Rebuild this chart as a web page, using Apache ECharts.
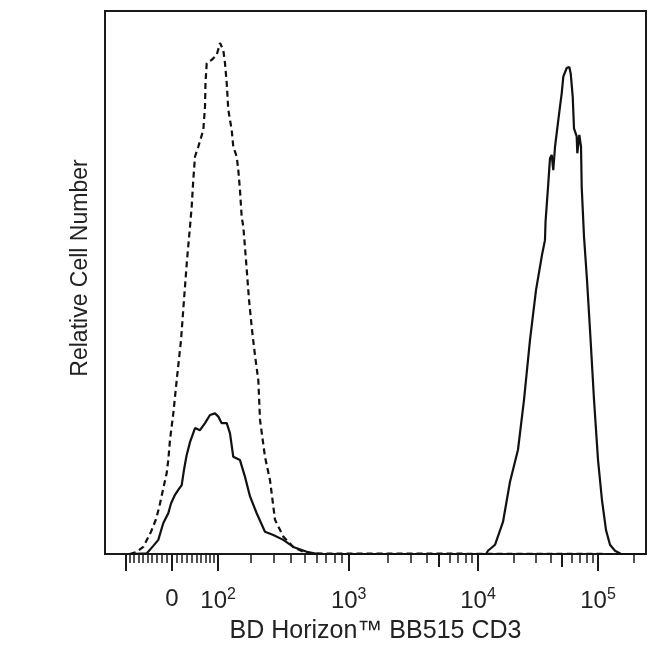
<!DOCTYPE html>
<html><head><meta charset="utf-8">
<script src="https://cdn.jsdelivr.net/npm/echarts@6/dist/echarts.min.js"></script>
<style>html,body{margin:0;padding:0;background:#fff}#c{width:650px;height:646px}</style>
</head><body><div id="c"></div>
<script>
// Histogram data on a 0–1024 display-channel scale, counts relative (0–100)
const dashedChannel = [47, 50.5, 60.0, 72.5, 87.1, 96.5, 102.8, 111.7, 116.8, 119.8, 123.0, 129.3, 135.7, 143.9, 149.5, 155.2, 160.9, 164.1, 167.1, 170.4, 176.6, 186.1, 189.3, 190.2, 192.5, 202.0, 211.4, 217.7, 223.9, 227.1, 230.4, 233.4, 239.8, 242.8, 249.3, 252.3, 255.5, 258.7, 261.8, 266.9, 272.6, 278.2, 283.9, 290.2, 293.4, 302.8, 312.3, 321.8, 337.5, 356.4, 375.3, 388.0, 975];
const dashedCount = [0, 0.1, 0.4, 1.3, 4.1, 6.4, 8.7, 12.7, 14.9, 17.3, 21.0, 25.9, 32.0, 39.4, 46.8, 54.1, 60.3, 64.0, 68.9, 73.2, 75.0, 78.1, 82.4, 86.7, 90.4, 91.0, 91.9, 94.1, 92.8, 90.4, 86.7, 81.8, 78.1, 75.0, 73.2, 70.7, 67.0, 62.1, 60.3, 54.1, 46.8, 41.3, 36.6, 32.0, 24.7, 17.9, 13.6, 6.3, 3.2, 1.3, 0.4, 0.1, 0];

const solidChannel = [47, 78.9, 91.4, 100.9, 110.4, 119.8, 124.9, 132.5, 138.7, 145.2, 149.5, 154.3, 160.9, 170.4, 179.8, 189.3, 198.7, 208.2, 214.5, 220.9, 230.4, 236.6, 242.8, 255.5, 265.0, 274.5, 287.1, 302.8, 318.6, 337.5, 356.4, 381.8, 403.2, 721.2, 724.9, 738.2, 753.3, 766.6, 781.7, 793.1, 804.4, 815.8, 827.2, 832.8, 833.8, 839.1, 842.3, 845.5, 848.5, 851.8, 858.0, 861.2, 864.4, 867.5, 873.9, 878.8, 881.5, 885.3, 887.7, 892.8, 894.0, 897.8, 901.0, 902.3, 906.7, 912.3, 918.0, 925.6, 933.2, 940.7, 948.3, 955.9, 965.3, 976.7, 1024];
const solidCount = [0, 0.1, 1.5, 2.6, 5.7, 7.5, 9.3, 10.9, 11.8, 12.7, 15.5, 18.1, 20.6, 23.2, 22.8, 24.1, 25.6, 25.9, 25.3, 24.1, 24.1, 22.2, 17.9, 17.3, 14.2, 10.6, 7.5, 4.1, 3.5, 2.6, 1.3, 0.4, 0, 0, 0.6, 1.7, 5.9, 13.3, 19.2, 28.4, 39.4, 48.6, 55.1, 57.8, 61.1, 68.3, 72.9, 73.5, 70.7, 75.0, 79.9, 82.4, 84.8, 87.9, 89.5, 89.7, 88.5, 84.2, 78.4, 76.9, 73.8, 77.2, 75.0, 67.6, 58.4, 50.5, 41.3, 28.4, 17.3, 9.9, 4.4, 1.7, 0.6, 0, 0];

// Tick values in fluorescence units
const majorTickValues = [-100, 0, 100, 1000, 10000, 100000];
const mediumTickValues = [5000, 50000];
const minorTickValues = [-90, -80, -70, -60, -50, -40, -30, -20, -10, 10, 20, 30, 40, 50, 60, 70, 80, 90,
  200, 300, 400, 500, 600, 700, 800, 900, 2000, 3000, 4000, 6000, 7000, 8000, 9000,
  20000, 30000, 40000, 60000, 70000, 80000, 90000, 200000];
const labelTickValues = [0, 100, 1000, 10000, 100000];
const labelBase = ['0', '10', '10', '10', '10'];
const labelExp = ['', '2', '3', '4', '5'];

// biexponential display transform: fluorescence value -> display channel
const ZERO_CH = 126.8, LIN_K = 121.5, LIN_C = 128;
const DECADE_ANCHORS = [[1000, null], [10000, 706.0], [100000, 933.2]];
function toChannel(v) {
  if (v <= 1000) return ZERO_CH + LIN_K * Math.asinh(v / LIN_C);
  const a = DECADE_ANCHORS.map(function (d) { return [d[0], d[1] == null ? ZERO_CH + LIN_K * Math.asinh(d[0] / LIN_C) : d[1]]; });
  for (let i = 0; i < a.length - 1; i++) {
    if (v <= a[i + 1][0] || i === a.length - 2) {
      const t = (Math.log10(v) - Math.log10(a[i][0])) / (Math.log10(a[i + 1][0]) - Math.log10(a[i][0]));
      return a[i][1] + t * (a[i + 1][1] - a[i][1]);
    }
  }
}

const labelChannels = labelTickValues.map(toChannel);
const font = 'Liberation Sans, Arial, sans-serif';

const baseX = { type: 'value', min: 0, max: 1024, position: 'bottom', gridIndex: 0,
  splitLine: { show: false }, axisLine: { show: false }, axisLabel: { show: false } };

const chart = echarts.init(document.getElementById('c'), null, { renderer: 'canvas' });
chart.setOption({
  animation: false,
  backgroundColor: '#fff',
  grid: { left: 105, right: 4, top: 11, bottom: 92, show: true, borderColor: '#1a1a1a', borderWidth: 2, outerBoundsMode: 'none' },
  xAxis: [
    Object.assign({}, baseX, {
      name: 'BD Horizon™ BB515 CD3', nameLocation: 'middle', nameGap: 61,
      nameTextStyle: { fontFamily: font, fontSize: 25, color: '#222' },
      axisLine: { show: true, onZero: false, lineStyle: { color: '#1a1a1a', width: 2 } },
      axisTick: { show: true, length: 17, lineStyle: { color: '#1a1a1a', width: 2 }, customValues: majorTickValues.map(toChannel) },
      axisLabel: {
        show: true, margin: 33, customValues: labelChannels,
        formatter: function (val) {
          let i = 0, best = Infinity;
          labelChannels.forEach(function (c, k) { if (Math.abs(c - val) < best) { best = Math.abs(c - val); i = k; } });
          return labelExp[i] ? '{b|' + labelBase[i] + '}{s|' + labelExp[i] + '}' : '{b|' + labelBase[i] + '}';
        },
        rich: {
          b: { fontFamily: font, fontSize: 24, color: '#222' },
          s: { fontFamily: font, fontSize: 16, color: '#222', verticalAlign: 'bottom', padding: [0, 0, 13, 0] }
        }
      }
    }),
    Object.assign({}, baseX, {
      axisTick: { show: true, length: 13, lineStyle: { color: '#1a1a1a', width: 2 }, customValues: mediumTickValues.map(toChannel) }
    }),
    Object.assign({}, baseX, {
      axisTick: { show: true, length: 9, lineStyle: { color: '#1a1a1a', width: 1.5 }, customValues: minorTickValues.map(toChannel) }
    })
  ],
  yAxis: {
    type: 'value', min: 0, max: 100,
    name: 'Relative Cell Number', nameLocation: 'middle', nameGap: 13,
    nameTextStyle: { fontFamily: font, fontSize: 23, color: '#222', padding: [0, 0, 0, 29] },
    axisLine: { show: true, lineStyle: { color: '#1a1a1a', width: 2 } },
    axisTick: { show: false }, axisLabel: { show: false }, splitLine: { show: false }
  },
  series: [
    {
      type: 'line', name: 'isotype', showSymbol: false, xAxisIndex: 0,
      lineStyle: { color: '#111', width: 2.2, type: [6, 4] },
      data: dashedChannel.map(function (c, i) { return [c, dashedCount[i]]; })
    },
    {
      type: 'line', name: 'CD3', showSymbol: false, xAxisIndex: 0,
      lineStyle: { color: '#111', width: 2.2 },
      data: solidChannel.map(function (c, i) { return [c, solidCount[i]]; })
    }
  ]
});
</script></body></html>
